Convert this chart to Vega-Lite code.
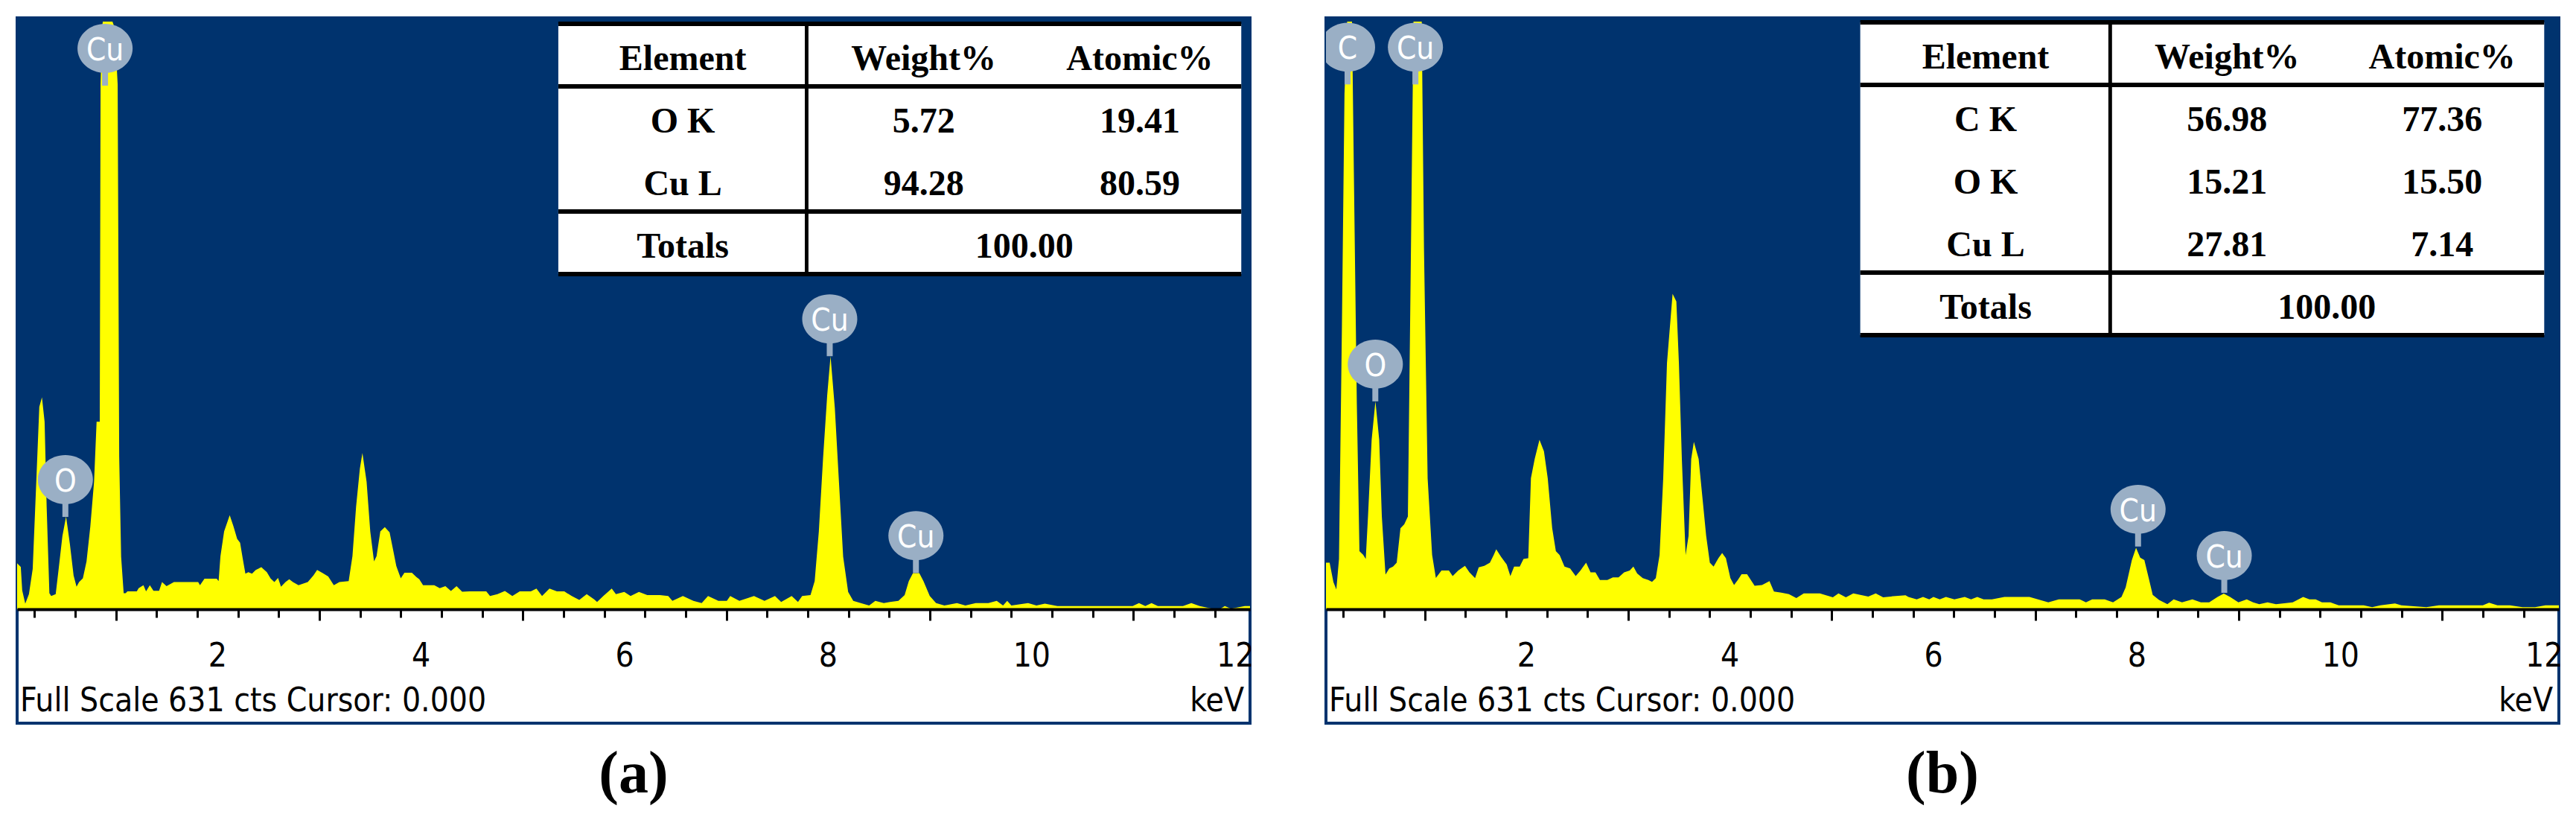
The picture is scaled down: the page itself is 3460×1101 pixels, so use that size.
{
"$schema": "https://vega.github.io/schema/vega-lite/v6.json",
"background": "white",
"padding": {"left": 21, "top": 22, "right": 0, "bottom": 0},
"spacing": 102,
"bounds": "flush",
"config": {"view": {"stroke": "#00336E", "strokeWidth": 4}},
"datasets": {
"specA": [{"kev":0.03,"cts":49},{"kev":0.066,"cts":45},{"kev":0.08,"cts":20},{"kev":0.11,"cts":6},{"kev":0.146,"cts":16},{"kev":0.183,"cts":43},{"kev":0.219,"cts":138},{"kev":0.248,"cts":216},{"kev":0.274,"cts":226},{"kev":0.3,"cts":200},{"kev":0.32,"cts":110},{"kev":0.347,"cts":17},{"kev":0.365,"cts":14},{"kev":0.409,"cts":16},{"kev":0.438,"cts":43},{"kev":0.475,"cts":78},{"kev":0.511,"cts":99},{"kev":0.548,"cts":70},{"kev":0.585,"cts":36},{"kev":0.614,"cts":24},{"kev":0.639,"cts":29},{"kev":0.676,"cts":33},{"kev":0.712,"cts":51},{"kev":0.749,"cts":88},{"kev":0.786,"cts":136},{"kev":0.811,"cts":200},{"kev":0.842,"cts":200},{"kev":0.85,"cts":560},{"kev":0.864,"cts":620},{"kev":0.872,"cts":627},{"kev":0.967,"cts":627},{"kev":0.989,"cts":620},{"kev":1.018,"cts":560},{"kev":1.033,"cts":163},{"kev":1.052,"cts":56},{"kev":1.077,"cts":17},{"kev":1.096,"cts":17},{"kev":1.114,"cts":19},{"kev":1.206,"cts":19},{"kev":1.224,"cts":22.5},{"kev":1.271,"cts":25.7},{"kev":1.297,"cts":19},{"kev":1.334,"cts":25.7},{"kev":1.37,"cts":19.6},{"kev":1.425,"cts":19.6},{"kev":1.454,"cts":29},{"kev":1.498,"cts":24.6},{"kev":1.571,"cts":29},{"kev":1.809,"cts":29},{"kev":1.827,"cts":25.7},{"kev":1.871,"cts":32.6},{"kev":1.991,"cts":32.6},{"kev":2.01,"cts":30},{"kev":2.028,"cts":56.7},{"kev":2.064,"cts":83},{"kev":2.119,"cts":100.4},{"kev":2.156,"cts":88.5},{"kev":2.192,"cts":75},{"kev":2.221,"cts":71},{"kev":2.247,"cts":54},{"kev":2.273,"cts":38},{"kev":2.302,"cts":39.5},{"kev":2.338,"cts":38},{"kev":2.375,"cts":42},{"kev":2.43,"cts":44.8},{"kev":2.484,"cts":39.5},{"kev":2.521,"cts":32.8},{"kev":2.558,"cts":29},{"kev":2.594,"cts":33.4},{"kev":2.623,"cts":24},{"kev":2.667,"cts":29},{"kev":2.704,"cts":32},{"kev":2.74,"cts":29},{"kev":2.795,"cts":25.7},{"kev":2.886,"cts":29},{"kev":2.941,"cts":36},{"kev":2.978,"cts":42},{"kev":3.033,"cts":38.5},{"kev":3.087,"cts":35},{"kev":3.142,"cts":25.7},{"kev":3.197,"cts":29},{"kev":3.288,"cts":30},{"kev":3.325,"cts":56.7},{"kev":3.361,"cts":109.7},{"kev":3.398,"cts":150},{"kev":3.423,"cts":166.6},{"kev":3.464,"cts":136},{"kev":3.5,"cts":83},{"kev":3.537,"cts":51},{"kev":3.562,"cts":56.7},{"kev":3.599,"cts":83},{"kev":3.643,"cts":87.7},{"kev":3.69,"cts":82},{"kev":3.727,"cts":62},{"kev":3.756,"cts":46},{"kev":3.8,"cts":33},{"kev":3.836,"cts":39},{"kev":3.909,"cts":39},{"kev":3.953,"cts":34.4},{"kev":3.982,"cts":32},{"kev":4.019,"cts":25.7},{"kev":4.129,"cts":25.7},{"kev":4.183,"cts":22.5},{"kev":4.238,"cts":24.7},{"kev":4.293,"cts":19.5},{"kev":4.348,"cts":24.7},{"kev":4.403,"cts":18.6},{"kev":4.476,"cts":19},{"kev":4.64,"cts":19},{"kev":4.677,"cts":14},{"kev":4.75,"cts":16},{"kev":4.823,"cts":19.5},{"kev":4.896,"cts":14},{"kev":4.969,"cts":19},{"kev":5.078,"cts":19},{"kev":5.133,"cts":22},{"kev":5.188,"cts":14},{"kev":5.261,"cts":22},{"kev":5.334,"cts":19},{"kev":5.407,"cts":19},{"kev":5.48,"cts":14},{"kev":5.554,"cts":10},{"kev":5.627,"cts":16},{"kev":5.7,"cts":10.6},{"kev":5.729,"cts":7.7},{"kev":5.79,"cts":14},{"kev":5.873,"cts":22},{"kev":5.914,"cts":16},{"kev":5.996,"cts":18.5},{"kev":6.058,"cts":14},{"kev":6.14,"cts":18.5},{"kev":6.222,"cts":15},{"kev":6.346,"cts":15},{"kev":6.428,"cts":14},{"kev":6.469,"cts":9},{"kev":6.572,"cts":14},{"kev":6.675,"cts":9},{"kev":6.757,"cts":6.6},{"kev":6.819,"cts":14},{"kev":6.921,"cts":9},{"kev":7.004,"cts":9},{"kev":7.037,"cts":14},{"kev":7.127,"cts":9},{"kev":7.271,"cts":14},{"kev":7.374,"cts":9},{"kev":7.477,"cts":14},{"kev":7.538,"cts":7.7},{"kev":7.641,"cts":14},{"kev":7.703,"cts":7.7},{"kev":7.744,"cts":14},{"kev":7.826,"cts":15},{"kev":7.867,"cts":30},{"kev":7.908,"cts":83},{"kev":7.95,"cts":162},{"kev":7.99,"cts":228},{"kev":8.023,"cts":270},{"kev":8.065,"cts":214.7},{"kev":8.106,"cts":135},{"kev":8.147,"cts":56},{"kev":8.196,"cts":18.5},{"kev":8.246,"cts":9},{"kev":8.32,"cts":6.6},{"kev":8.402,"cts":4},{"kev":8.463,"cts":9},{"kev":8.546,"cts":6.6},{"kev":8.607,"cts":7.7},{"kev":8.69,"cts":9},{"kev":8.751,"cts":15},{"kev":8.792,"cts":30},{"kev":8.833,"cts":38.5},{"kev":8.895,"cts":38.5},{"kev":8.936,"cts":30},{"kev":8.998,"cts":14},{"kev":9.06,"cts":6.6},{"kev":9.142,"cts":4},{"kev":9.265,"cts":6.6},{"kev":9.348,"cts":4},{"kev":9.45,"cts":6.6},{"kev":9.574,"cts":6.6},{"kev":9.656,"cts":9},{"kev":9.718,"cts":4},{"kev":9.759,"cts":9},{"kev":9.8,"cts":4},{"kev":9.964,"cts":6.6},{"kev":10.046,"cts":4},{"kev":10.129,"cts":6},{"kev":10.252,"cts":3.4},{"kev":10.663,"cts":3.4},{"kev":10.992,"cts":3.4},{"kev":11.054,"cts":6.6},{"kev":11.116,"cts":3.4},{"kev":11.177,"cts":6.6},{"kev":11.239,"cts":3.4},{"kev":11.486,"cts":3.4},{"kev":11.568,"cts":6.6},{"kev":11.65,"cts":3.4},{"kev":11.773,"cts":0.5},{"kev":11.855,"cts":0.5},{"kev":11.897,"cts":3.4},{"kev":11.958,"cts":0.5},{"kev":12.094,"cts":3.4},{"kev":12.145,"cts":3.4}],
"specB": [{"kev":0.03,"cts":49.6},{"kev":0.066,"cts":49.6},{"kev":0.103,"cts":29},{"kev":0.132,"cts":21},{"kev":0.158,"cts":53.7},{"kev":0.187,"cts":304},{"kev":0.212,"cts":550},{"kev":0.238,"cts":627},{"kev":0.286,"cts":627},{"kev":0.304,"cts":467},{"kev":0.333,"cts":221},{"kev":0.359,"cts":62},{"kev":0.396,"cts":58},{"kev":0.421,"cts":53.7},{"kev":0.443,"cts":99},{"kev":0.479,"cts":181},{"kev":0.516,"cts":222},{"kev":0.553,"cts":181},{"kev":0.579,"cts":99},{"kev":0.615,"cts":37},{"kev":0.652,"cts":43.5},{"kev":0.689,"cts":45.5},{"kev":0.725,"cts":49.6},{"kev":0.762,"cts":86.5},{"kev":0.799,"cts":90.6},{"kev":0.835,"cts":99},{"kev":0.861,"cts":345},{"kev":0.89,"cts":627},{"kev":0.971,"cts":627},{"kev":0.993,"cts":385.6},{"kev":1.029,"cts":139.7},{"kev":1.073,"cts":58},{"kev":1.11,"cts":33.3},{"kev":1.165,"cts":41.4},{"kev":1.238,"cts":41.4},{"kev":1.275,"cts":35.3},{"kev":1.33,"cts":41.4},{"kev":1.396,"cts":46.3},{"kev":1.44,"cts":39.4},{"kev":1.495,"cts":33.2},{"kev":1.531,"cts":44.7},{"kev":1.586,"cts":46.3},{"kev":1.641,"cts":49.6},{"kev":1.678,"cts":57.8},{"kev":1.703,"cts":64},{"kev":1.751,"cts":55.8},{"kev":1.806,"cts":47.6},{"kev":1.842,"cts":35.3},{"kev":1.879,"cts":45.5},{"kev":1.934,"cts":45.5},{"kev":1.971,"cts":53.7},{"kev":2.018,"cts":54.5},{"kev":2.044,"cts":139.8},{"kev":2.081,"cts":160.3},{"kev":2.128,"cts":180.8},{"kev":2.172,"cts":168.5},{"kev":2.209,"cts":139.8},{"kev":2.253,"cts":86.5},{"kev":2.289,"cts":61.9},{"kev":2.326,"cts":57.8},{"kev":2.374,"cts":45.5},{"kev":2.429,"cts":43.5},{"kev":2.484,"cts":35.3},{"kev":2.531,"cts":41.4},{"kev":2.586,"cts":49.6},{"kev":2.63,"cts":39.4},{"kev":2.678,"cts":39.4},{"kev":2.722,"cts":31.2},{"kev":2.795,"cts":31.2},{"kev":2.85,"cts":34},{"kev":2.905,"cts":34},{"kev":2.96,"cts":39.4},{"kev":3.015,"cts":41.4},{"kev":3.051,"cts":45.5},{"kev":3.088,"cts":38.2},{"kev":3.143,"cts":33.2},{"kev":3.198,"cts":31.2},{"kev":3.234,"cts":29.1},{"kev":3.271,"cts":33.2},{"kev":3.308,"cts":57.8},{"kev":3.344,"cts":139.8},{"kev":3.381,"cts":262.8},{"kev":3.436,"cts":336.6},{"kev":3.473,"cts":328.4},{"kev":3.498,"cts":262.8},{"kev":3.527,"cts":160.3},{"kev":3.564,"cts":57.8},{"kev":3.593,"cts":78.3},{"kev":3.619,"cts":160.3},{"kev":3.645,"cts":178.7},{"kev":3.692,"cts":160.3},{"kev":3.729,"cts":119.3},{"kev":3.766,"cts":78.3},{"kev":3.802,"cts":49.6},{"kev":3.839,"cts":45.5},{"kev":3.886,"cts":54.5},{"kev":3.923,"cts":59.9},{"kev":3.96,"cts":54.5},{"kev":4.004,"cts":33.2},{"kev":4.04,"cts":25.9},{"kev":4.077,"cts":31.2},{"kev":4.114,"cts":37.3},{"kev":4.168,"cts":37.3},{"kev":4.205,"cts":31.2},{"kev":4.242,"cts":25},{"kev":4.315,"cts":25.9},{"kev":4.388,"cts":29.9},{"kev":4.432,"cts":18.9},{"kev":4.505,"cts":17.6},{"kev":4.579,"cts":16},{"kev":4.652,"cts":11.9},{"kev":4.725,"cts":16.8},{"kev":4.883,"cts":16.8},{"kev":5.011,"cts":12.7},{"kev":5.066,"cts":16.8},{"kev":5.139,"cts":12.7},{"kev":5.212,"cts":16.8},{"kev":5.359,"cts":13.6},{"kev":5.432,"cts":16.8},{"kev":5.505,"cts":12.7},{"kev":5.579,"cts":13.6},{"kev":5.725,"cts":14.8},{"kev":5.753,"cts":13.2},{"kev":5.835,"cts":10.6},{"kev":5.897,"cts":13.2},{"kev":5.958,"cts":10.6},{"kev":5.999,"cts":13.2},{"kev":6.061,"cts":10.6},{"kev":6.122,"cts":13.2},{"kev":6.205,"cts":10.6},{"kev":6.307,"cts":13.2},{"kev":6.369,"cts":10.6},{"kev":6.43,"cts":13.2},{"kev":6.492,"cts":10.6},{"kev":6.574,"cts":10.6},{"kev":6.697,"cts":13.2},{"kev":6.82,"cts":13.2},{"kev":6.943,"cts":13.2},{"kev":7.026,"cts":10.6},{"kev":7.128,"cts":7.4},{"kev":7.231,"cts":10.6},{"kev":7.436,"cts":10.6},{"kev":7.498,"cts":7.4},{"kev":7.559,"cts":10.6},{"kev":7.682,"cts":10.6},{"kev":7.764,"cts":7.4},{"kev":7.847,"cts":13.2},{"kev":7.888,"cts":23.3},{"kev":7.949,"cts":52.4},{"kev":7.99,"cts":65.6},{"kev":8.031,"cts":55},{"kev":8.072,"cts":52.4},{"kev":8.113,"cts":33.9},{"kev":8.154,"cts":15.3},{"kev":8.216,"cts":10},{"kev":8.298,"cts":5.3},{"kev":8.36,"cts":10.6},{"kev":8.442,"cts":7.4},{"kev":8.544,"cts":10.6},{"kev":8.627,"cts":7.4},{"kev":8.709,"cts":7.4},{"kev":8.791,"cts":13.2},{"kev":8.852,"cts":16.7},{"kev":8.914,"cts":13.2},{"kev":8.996,"cts":7.4},{"kev":9.078,"cts":10.6},{"kev":9.14,"cts":7.4},{"kev":9.201,"cts":5.3},{"kev":9.283,"cts":7.4},{"kev":9.365,"cts":5.3},{"kev":9.53,"cts":7.4},{"kev":9.632,"cts":13.2},{"kev":9.694,"cts":10.6},{"kev":9.755,"cts":10.6},{"kev":9.817,"cts":7.4},{"kev":9.899,"cts":7.4},{"kev":9.981,"cts":4.2},{"kev":10.227,"cts":4.2},{"kev":10.31,"cts":2.1},{"kev":10.392,"cts":4.2},{"kev":10.535,"cts":6.1},{"kev":10.597,"cts":4.2},{"kev":10.843,"cts":2.1},{"kev":10.966,"cts":4.2},{"kev":11.398,"cts":4.2},{"kev":11.459,"cts":6.9},{"kev":11.541,"cts":4.2},{"kev":11.664,"cts":4.2},{"kev":11.787,"cts":2.1},{"kev":11.911,"cts":2.1},{"kev":12.013,"cts":4.2},{"kev":12.095,"cts":4.2},{"kev":12.145,"cts":4.2}],
"labelsA": [{"el":"Cu","kev":0.894,"cts":558.7},{"el":"O","kev":0.504,"cts":98.5},{"el":"Cu","kev":8.015,"cts":270},{"el":"Cu","kev":8.862,"cts":38.7}],
"labelsB": [{"el":"C","kev":0.242,"cts":560},{"el":"Cu","kev":0.909,"cts":560},{"el":"O","kev":0.515,"cts":221.8},{"el":"Cu","kev":8.01,"cts":66.9},{"el":"Cu","kev":8.857,"cts":17.5}],
"notes": [{"left":"Full Scale 631 cts Cursor: 0.000","right":"keV"}],
"ticklabels": [{"v":2},{"v":4},{"v":6},{"v":8},{"v":10},{"v":12}],
"tableA": [{"row":"hdr","element":"Element","weight":"Weight%","atomic":"Atomic%"},{"row":"O K","element":"O K","weight":"5.72","atomic":"19.41"},{"row":"Cu L","element":"Cu L","weight":"94.28","atomic":"80.59"},{"row":"tot","element":"Totals","total":"100.00"}],
"tableB": [{"row":"hdr","element":"Element","weight":"Weight%","atomic":"Atomic%"},{"row":"C K","element":"C K","weight":"56.98","atomic":"77.36"},{"row":"O K","element":"O K","weight":"15.21","atomic":"15.50"},{"row":"Cu L","element":"Cu L","weight":"27.81","atomic":"7.14"},{"row":"tot","element":"Totals","total":"100.00"}]
},
"hconcat": [
{
"width": 1656, "height": 947,
"title": {"text": "(a)", "orient": "bottom", "anchor": "middle", "font": "Liberation Serif", "fontSize": 80, "fontWeight": "bold", "color": "black", "baseline": "alphabetic", "offset": 93},
"resolve": {"scale": {"y": "independent"}},
"layer": [
{"data": {"values": [{}]}, "mark": {"type": "rect", "color": "#00336E"},
 "encoding": {"x": {"datum": 0.03, "type": "quantitative", "scale": {"domain": [0.03, 12.145], "nice": false, "zero": false},
   "axis": {"orient": "bottom", "offset": -153, "title": null, "grid": false, "zindex": 1, "labels": false,
    "values": [0.2,0.4,0.6,0.8,1,1.2,1.4,1.6,1.8,2,2.2,2.4,2.6,2.8,3,3.2,3.4,3.6,3.8,4,4.2,4.4,4.6,4.8,5,5.2,5.4,5.6,5.8,6,6.2,6.4,6.6,6.8,7,7.2,7.4,7.6,7.8,8,8.2,8.4,8.6,8.8,9,9.2,9.4,9.6,9.8,10,10.2,10.4,10.6,10.8,11,11.2,11.4,11.6,11.8,12],
    "domain": true, "domainColor": "black", "domainWidth": 4, "ticks": true, "tickColor": "black", "tickWidth": 3,
    "tickSize": {"condition": [{"test": "round(datum.value*5) % 10 === 0", "value": 19}, {"test": "round(datum.value*5) % 5 === 0", "value": 15}], "value": 11}}},
  "x2": {"datum": 12.145},
  "y": {"datum": 0, "type": "quantitative", "scale": {"domain": [-121.6, 631], "nice": false, "zero": false}, "axis": null}, "y2": {"datum": 631}}},
{"data": {"name": "specA"}, "mark": {"type": "area", "color": "#FFFF00", "interpolate": "linear"},
 "encoding": {"x": {"field": "kev", "type": "quantitative"},
  "y": {"field": "cts", "type": "quantitative", "axis": null, "scale": {"domain": [-121.6, 631], "nice": false, "zero": false}}, "y2": {"datum": 0}}},
{"data": {"name": "labelsA"}, "mark": {"type": "rule", "color": "#9AAFC5", "strokeWidth": 8, "y2Offset": -24},
 "encoding": {"x": {"field": "kev", "type": "quantitative"}, "y": {"field": "cts", "type": "quantitative", "axis": null, "scale": {"domain": [-121.6, 631], "nice": false, "zero": false}}, "y2": {"field": "cts"}}},
{"data": {"name": "labelsA"}, "mark": {"type": "point", "filled": true, "opacity": 1, "color": "#9AAFC5", "shape": "M -1 0 A 1 0.89 0 1 1 1 0 A 1 0.89 0 1 1 -1 0 Z", "size": 5476, "yOffset": -50, "clip": true, "strokeWidth": 0},
 "encoding": {"x": {"field": "kev", "type": "quantitative"}, "y": {"field": "cts", "type": "quantitative", "axis": null, "scale": {"domain": [-121.6, 631], "nice": false, "zero": false}}}},
{"data": {"name": "labelsA"}, "mark": {"type": "text", "color": "white", "font": "Liberation Sans Narrow, DejaVu Sans Condensed, Arial Narrow, sans-serif", "fontSize": 42, "align": "center", "baseline": "middle", "yOffset": -47},
 "encoding": {"x": {"field": "kev", "type": "quantitative"}, "y": {"field": "cts", "type": "quantitative", "axis": null, "scale": {"domain": [-121.6, 631], "nice": false, "zero": false}}, "text": {"field": "el"}}},
{"data": {"name": "ticklabels"}, "mark": {"type": "text", "color": "black", "font": "Liberation Sans Narrow, DejaVu Sans Condensed, Arial Narrow, sans-serif", "fontSize": 44, "align": "center", "baseline": "alphabetic"},
 "encoding": {"x": {"field": "v", "type": "quantitative"}, "y": {"datum": -61, "type": "quantitative", "axis": null, "scale": {"domain": [-121.6, 631], "nice": false, "zero": false}}, "text": {"field": "v", "type": "nominal"}}},
{"data": {"name": "notes"}, "mark": {"type": "text", "color": "black", "font": "Liberation Sans Narrow, DejaVu Sans Condensed, Arial Narrow, sans-serif", "fontSize": 44, "align": "left", "baseline": "alphabetic", "dx": 4},
 "encoding": {"x": {"datum": 0.03, "type": "quantitative"}, "y": {"datum": -109, "type": "quantitative", "axis": null, "scale": {"domain": [-121.6, 631], "nice": false, "zero": false}}, "text": {"field": "left"}}},
{"data": {"name": "notes"}, "mark": {"type": "text", "color": "black", "font": "Liberation Sans Narrow, DejaVu Sans Condensed, Arial Narrow, sans-serif", "fontSize": 44, "align": "right", "baseline": "alphabetic", "dx": -8},
 "encoding": {"x": {"datum": 12.145, "type": "quantitative"}, "y": {"datum": -109, "type": "quantitative", "axis": null, "scale": {"domain": [-121.6, 631], "nice": false, "zero": false}}, "text": {"field": "right"}}},
{"data": {"name": "tableA"}, "mark": {"type": "rect", "color": "white"},
 "encoding": {"x": {"datum": 5.348, "type": "quantitative"}, "x2": {"datum": 12.059},
  "y": {"field": "row", "type": "nominal", "axis": null, "scale": {"type": "band", "domain": ["hdr", "O K", "Cu L", "tot"], "range": [8, 344], "paddingInner": 0, "paddingOuter": 0}}}},
{"data": {"name": "tableA"}, "transform": [{"filter": {"field": "row", "oneOf": ["hdr", "O K", "tot"]}}], "mark": {"type": "rule", "color": "black", "strokeWidth": 6},
 "encoding": {"x": {"datum": 5.348, "type": "quantitative"}, "x2": {"datum": 12.059}, "y": {"field": "row", "type": "nominal", "bandPosition": 0, "axis": null, "scale": {"type": "band", "domain": ["hdr", "O K", "Cu L", "tot"], "range": [8, 344], "paddingInner": 0, "paddingOuter": 0}}}},
{"data": {"name": "tableA"}, "transform": [{"filter": {"field": "row", "equal": "tot"}}], "mark": {"type": "rule", "color": "black", "strokeWidth": 6},
 "encoding": {"x": {"datum": 5.348, "type": "quantitative"}, "x2": {"datum": 12.059}, "y": {"field": "row", "type": "nominal", "bandPosition": 1, "axis": null, "scale": {"type": "band", "domain": ["hdr", "O K", "Cu L", "tot"], "range": [8, 344], "paddingInner": 0, "paddingOuter": 0}}}},
{"data": {"name": "tableA"}, "mark": {"type": "rect", "color": "black"},
 "encoding": {"x": {"datum": 7.77, "type": "quantitative"}, "x2": {"datum": 7.806}, "y": {"field": "row", "type": "nominal", "axis": null, "scale": {"type": "band", "domain": ["hdr", "O K", "Cu L", "tot"], "range": [8, 344], "paddingInner": 0, "paddingOuter": 0}}}},
{"data": {"name": "tableA"}, "mark": {"type": "text", "font": "Liberation Serif", "fontWeight": "bold", "fontSize": 48, "color": "black", "align": "center", "baseline": "alphabetic", "dy": 20},
 "encoding": {"x": {"datum": 6.571, "type": "quantitative"}, "y": {"field": "row", "type": "nominal", "axis": null, "scale": {"type": "band", "domain": ["hdr", "O K", "Cu L", "tot"], "range": [8, 344], "paddingInner": 0, "paddingOuter": 0}}, "text": {"field": "element"}}},
{"data": {"name": "tableA"}, "transform": [{"filter": "isValid(datum.weight)"}], "mark": {"type": "text", "font": "Liberation Serif", "fontWeight": "bold", "fontSize": 48, "color": "black", "align": "center", "baseline": "alphabetic", "dy": 20},
 "encoding": {"x": {"datum": 8.938, "type": "quantitative"}, "y": {"field": "row", "type": "nominal", "axis": null, "scale": {"type": "band", "domain": ["hdr", "O K", "Cu L", "tot"], "range": [8, 344], "paddingInner": 0, "paddingOuter": 0}}, "text": {"field": "weight"}}},
{"data": {"name": "tableA"}, "transform": [{"filter": "isValid(datum.atomic)"}], "mark": {"type": "text", "font": "Liberation Serif", "fontWeight": "bold", "fontSize": 48, "color": "black", "align": "center", "baseline": "alphabetic", "dy": 20},
 "encoding": {"x": {"datum": 11.062, "type": "quantitative"}, "y": {"field": "row", "type": "nominal", "axis": null, "scale": {"type": "band", "domain": ["hdr", "O K", "Cu L", "tot"], "range": [8, 344], "paddingInner": 0, "paddingOuter": 0}}, "text": {"field": "atomic"}}},
{"data": {"name": "tableA"}, "transform": [{"filter": "isValid(datum.total)"}], "mark": {"type": "text", "font": "Liberation Serif", "fontWeight": "bold", "fontSize": 48, "color": "black", "align": "center", "baseline": "alphabetic", "dy": 20},
 "encoding": {"x": {"datum": 9.927, "type": "quantitative"}, "y": {"field": "row", "type": "nominal", "axis": null, "scale": {"type": "band", "domain": ["hdr", "O K", "Cu L", "tot"], "range": [8, 344], "paddingInner": 0, "paddingOuter": 0}}, "text": {"field": "total"}}}
]
},
{
"width": 1656, "height": 947,
"title": {"text": "(b)", "orient": "bottom", "anchor": "middle", "font": "Liberation Serif", "fontSize": 80, "fontWeight": "bold", "color": "black", "baseline": "alphabetic", "offset": 93},
"resolve": {"scale": {"y": "independent"}},
"layer": [
{"data": {"values": [{}]}, "mark": {"type": "rect", "color": "#00336E"},
 "encoding": {"x": {"datum": 0.03, "type": "quantitative", "scale": {"domain": [0.03, 12.145], "nice": false, "zero": false},
   "axis": {"orient": "bottom", "offset": -153, "title": null, "grid": false, "zindex": 1, "labels": false,
    "values": [0.2,0.4,0.6,0.8,1,1.2,1.4,1.6,1.8,2,2.2,2.4,2.6,2.8,3,3.2,3.4,3.6,3.8,4,4.2,4.4,4.6,4.8,5,5.2,5.4,5.6,5.8,6,6.2,6.4,6.6,6.8,7,7.2,7.4,7.6,7.8,8,8.2,8.4,8.6,8.8,9,9.2,9.4,9.6,9.8,10,10.2,10.4,10.6,10.8,11,11.2,11.4,11.6,11.8,12],
    "domain": true, "domainColor": "black", "domainWidth": 4, "ticks": true, "tickColor": "black", "tickWidth": 3,
    "tickSize": {"condition": [{"test": "round(datum.value*5) % 10 === 0", "value": 19}, {"test": "round(datum.value*5) % 5 === 0", "value": 15}], "value": 11}}},
  "x2": {"datum": 12.145},
  "y": {"datum": 0, "type": "quantitative", "scale": {"domain": [-121.6, 631], "nice": false, "zero": false}, "axis": null}, "y2": {"datum": 631}}},
{"data": {"name": "specB"}, "mark": {"type": "area", "color": "#FFFF00", "interpolate": "linear"},
 "encoding": {"x": {"field": "kev", "type": "quantitative"},
  "y": {"field": "cts", "type": "quantitative", "axis": null, "scale": {"domain": [-121.6, 631], "nice": false, "zero": false}}, "y2": {"datum": 0}}},
{"data": {"name": "labelsB"}, "mark": {"type": "rule", "color": "#9AAFC5", "strokeWidth": 8, "y2Offset": -24},
 "encoding": {"x": {"field": "kev", "type": "quantitative"}, "y": {"field": "cts", "type": "quantitative", "axis": null, "scale": {"domain": [-121.6, 631], "nice": false, "zero": false}}, "y2": {"field": "cts"}}},
{"data": {"name": "labelsB"}, "mark": {"type": "point", "filled": true, "opacity": 1, "color": "#9AAFC5", "shape": "M -1 0 A 1 0.89 0 1 1 1 0 A 1 0.89 0 1 1 -1 0 Z", "size": 5476, "yOffset": -50, "clip": true, "strokeWidth": 0},
 "encoding": {"x": {"field": "kev", "type": "quantitative"}, "y": {"field": "cts", "type": "quantitative", "axis": null, "scale": {"domain": [-121.6, 631], "nice": false, "zero": false}}}},
{"data": {"name": "labelsB"}, "mark": {"type": "text", "color": "white", "font": "Liberation Sans Narrow, DejaVu Sans Condensed, Arial Narrow, sans-serif", "fontSize": 42, "align": "center", "baseline": "middle", "yOffset": -47},
 "encoding": {"x": {"field": "kev", "type": "quantitative"}, "y": {"field": "cts", "type": "quantitative", "axis": null, "scale": {"domain": [-121.6, 631], "nice": false, "zero": false}}, "text": {"field": "el"}}},
{"data": {"name": "ticklabels"}, "mark": {"type": "text", "color": "black", "font": "Liberation Sans Narrow, DejaVu Sans Condensed, Arial Narrow, sans-serif", "fontSize": 44, "align": "center", "baseline": "alphabetic"},
 "encoding": {"x": {"field": "v", "type": "quantitative"}, "y": {"datum": -61, "type": "quantitative", "axis": null, "scale": {"domain": [-121.6, 631], "nice": false, "zero": false}}, "text": {"field": "v", "type": "nominal"}}},
{"data": {"name": "notes"}, "mark": {"type": "text", "color": "black", "font": "Liberation Sans Narrow, DejaVu Sans Condensed, Arial Narrow, sans-serif", "fontSize": 44, "align": "left", "baseline": "alphabetic", "dx": 4},
 "encoding": {"x": {"datum": 0.03, "type": "quantitative"}, "y": {"datum": -109, "type": "quantitative", "axis": null, "scale": {"domain": [-121.6, 631], "nice": false, "zero": false}}, "text": {"field": "left"}}},
{"data": {"name": "notes"}, "mark": {"type": "text", "color": "black", "font": "Liberation Sans Narrow, DejaVu Sans Condensed, Arial Narrow, sans-serif", "fontSize": 44, "align": "right", "baseline": "alphabetic", "dx": -8},
 "encoding": {"x": {"datum": 12.145, "type": "quantitative"}, "y": {"datum": -109, "type": "quantitative", "axis": null, "scale": {"domain": [-121.6, 631], "nice": false, "zero": false}}, "text": {"field": "right"}}},
{"data": {"name": "tableB"}, "mark": {"type": "rect", "color": "white"},
 "encoding": {"x": {"datum": 5.28, "type": "quantitative"}, "x2": {"datum": 12.001},
  "y": {"field": "row", "type": "nominal", "axis": null, "scale": {"type": "band", "domain": ["hdr", "C K", "O K", "Cu L", "tot"], "range": [6, 426], "paddingInner": 0, "paddingOuter": 0}}}},
{"data": {"name": "tableB"}, "transform": [{"filter": {"field": "row", "oneOf": ["hdr", "C K", "tot"]}}], "mark": {"type": "rule", "color": "black", "strokeWidth": 6},
 "encoding": {"x": {"datum": 5.28, "type": "quantitative"}, "x2": {"datum": 12.001}, "y": {"field": "row", "type": "nominal", "bandPosition": 0, "axis": null, "scale": {"type": "band", "domain": ["hdr", "C K", "O K", "Cu L", "tot"], "range": [6, 426], "paddingInner": 0, "paddingOuter": 0}}}},
{"data": {"name": "tableB"}, "transform": [{"filter": {"field": "row", "equal": "tot"}}], "mark": {"type": "rule", "color": "black", "strokeWidth": 6},
 "encoding": {"x": {"datum": 5.28, "type": "quantitative"}, "x2": {"datum": 12.001}, "y": {"field": "row", "type": "nominal", "bandPosition": 1, "axis": null, "scale": {"type": "band", "domain": ["hdr", "C K", "O K", "Cu L", "tot"], "range": [6, 426], "paddingInner": 0, "paddingOuter": 0}}}},
{"data": {"name": "tableB"}, "mark": {"type": "rect", "color": "black"},
 "encoding": {"x": {"datum": 7.718, "type": "quantitative"}, "x2": {"datum": 7.754}, "y": {"field": "row", "type": "nominal", "axis": null, "scale": {"type": "band", "domain": ["hdr", "C K", "O K", "Cu L", "tot"], "range": [6, 426], "paddingInner": 0, "paddingOuter": 0}}}},
{"data": {"name": "tableB"}, "mark": {"type": "text", "font": "Liberation Serif", "fontWeight": "bold", "fontSize": 48, "color": "black", "align": "center", "baseline": "alphabetic", "dy": 20},
 "encoding": {"x": {"datum": 6.512, "type": "quantitative"}, "y": {"field": "row", "type": "nominal", "axis": null, "scale": {"type": "band", "domain": ["hdr", "C K", "O K", "Cu L", "tot"], "range": [6, 426], "paddingInner": 0, "paddingOuter": 0}}, "text": {"field": "element"}}},
{"data": {"name": "tableB"}, "transform": [{"filter": "isValid(datum.weight)"}], "mark": {"type": "text", "font": "Liberation Serif", "fontWeight": "bold", "fontSize": 48, "color": "black", "align": "center", "baseline": "alphabetic", "dy": 20},
 "encoding": {"x": {"datum": 8.884, "type": "quantitative"}, "y": {"field": "row", "type": "nominal", "axis": null, "scale": {"type": "band", "domain": ["hdr", "C K", "O K", "Cu L", "tot"], "range": [6, 426], "paddingInner": 0, "paddingOuter": 0}}, "text": {"field": "weight"}}},
{"data": {"name": "tableB"}, "transform": [{"filter": "isValid(datum.atomic)"}], "mark": {"type": "text", "font": "Liberation Serif", "fontWeight": "bold", "fontSize": 48, "color": "black", "align": "center", "baseline": "alphabetic", "dy": 20},
 "encoding": {"x": {"datum": 10.998, "type": "quantitative"}, "y": {"field": "row", "type": "nominal", "axis": null, "scale": {"type": "band", "domain": ["hdr", "C K", "O K", "Cu L", "tot"], "range": [6, 426], "paddingInner": 0, "paddingOuter": 0}}, "text": {"field": "atomic"}}},
{"data": {"name": "tableB"}, "transform": [{"filter": "isValid(datum.total)"}], "mark": {"type": "text", "font": "Liberation Serif", "fontWeight": "bold", "fontSize": 48, "color": "black", "align": "center", "baseline": "alphabetic", "dy": 20},
 "encoding": {"x": {"datum": 9.865, "type": "quantitative"}, "y": {"field": "row", "type": "nominal", "axis": null, "scale": {"type": "band", "domain": ["hdr", "C K", "O K", "Cu L", "tot"], "range": [6, 426], "paddingInner": 0, "paddingOuter": 0}}, "text": {"field": "total"}}}
]
}
]
}
